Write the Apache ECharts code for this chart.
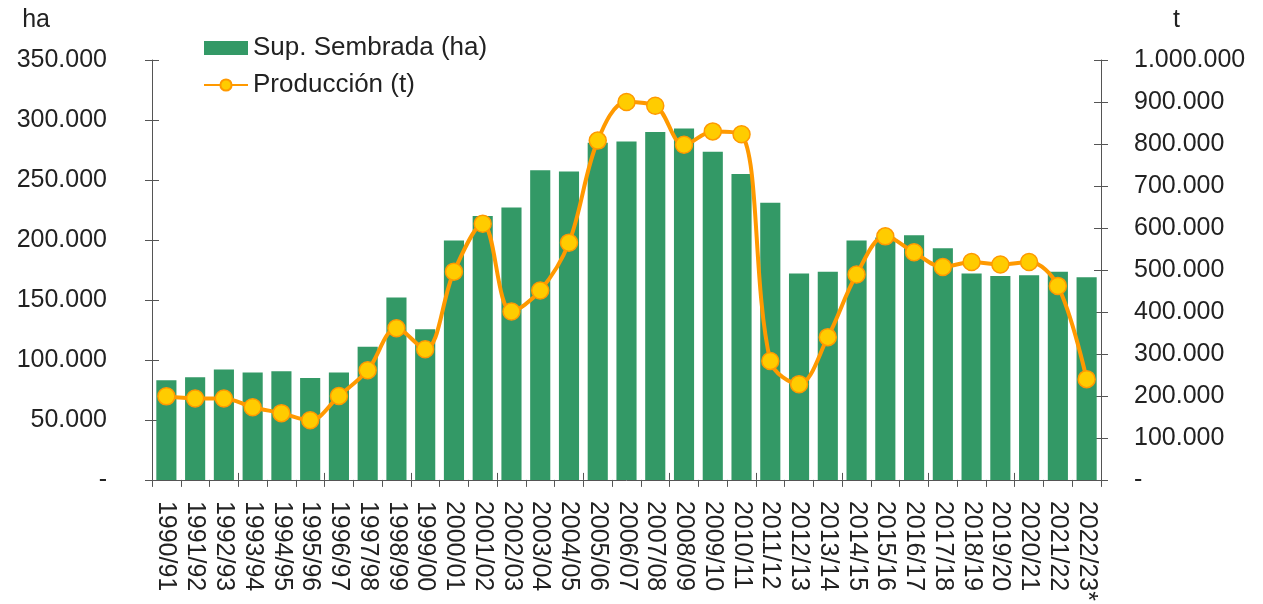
<!DOCTYPE html>
<html>
<head>
<meta charset="utf-8">
<script src="https://cdn.jsdelivr.net/npm/echarts@6/dist/echarts.min.js"></script>
<style>
  html, body { margin: 0; padding: 0; background: #fff; }
  #chart { width: 1263px; height: 604px; }
</style>
</head>
<body>
<div id="chart"></div>
<script>
const campaigns = [
  '1990/91', '1991/92', '1992/93', '1993/94', '1994/95', '1995/96', '1996/97', '1997/98',
  '1998/99', '1999/00', '2000/01', '2001/02', '2002/03', '2003/04', '2004/05', '2005/06',
  '2006/07', '2007/08', '2008/09', '2009/10', '2010/11', '2011/12', '2012/13', '2013/14',
  '2014/15', '2015/16', '2016/17', '2017/18', '2018/19', '2019/20', '2020/21', '2021/22',
  '2022/23*'
];

// hectáreas sembradas
const superficie = [
  83000, 85500, 92000, 89500, 90500, 85000, 89500, 111000,
  152000, 125500, 199500, 220000, 227000, 258000, 257000, 281000,
  282000, 290000, 293000, 273500, 255000, 231000, 172000, 173500,
  199500, 202000, 204000, 193000, 172000, 170000, 170500, 173500,
  169000
];

// toneladas producidas
const produccion = [
  199000, 194000, 194000, 173000, 159000, 142000, 200000, 261000,
  361000, 311000, 496000, 610000, 401000, 451000, 565000, 808000,
  900000, 891000, 798000, 830000, 823000, 283000, 228000, 340000,
  489000, 580000, 542000, 507000, 519000, 513000, 519000, 462000,
  240000
];

const fmt = (v) => v === 0 ? '-' : v.toLocaleString('de-DE');

const chart = echarts.init(document.getElementById('chart'));
const font = 'Liberation Sans, Arial, sans-serif';
const axisColor = '#555';
const txt = { fontSize: 25, color: '#222', fontFamily: font };

// eje "sombra" solo para que las marcas crucen la línea del eje
const innerTicks = (base) => Object.assign({
  axisLine: { show: false },
  axisTick: { show: true, inside: true, length: 7, lineStyle: { color: axisColor } },
  axisLabel: { show: false },
  splitLine: { show: false }
}, base);

chart.setOption({
  animation: false,
  textStyle: { fontFamily: font },
  legend: {
    orient: 'vertical',
    left: 198,
    top: 30,
    itemGap: 11,
    itemWidth: 44,
    itemHeight: 14,
    textStyle: { fontSize: 26, color: '#222', fontFamily: font },
    data: [
      { name: 'Sup. Sembrada (ha)', icon: 'rect' },
      { name: 'Producción (t)' }
    ]
  },
  grid: { left: 152, right: 162, top: 60, bottom: 123 },
  xAxis: [
    {
      type: 'category',
      data: campaigns,
      axisLine: { lineStyle: { color: axisColor, width: 1 } },
      axisTick: { show: true, length: 7, lineStyle: { color: axisColor } },
      axisLabel: Object.assign({ rotate: -90, margin: 21, interval: 0 }, txt)
    },
    innerTicks({ type: 'category', data: campaigns, position: 'bottom' })
  ],
  yAxis: [
    {
      type: 'value',
      name: 'ha',
      nameGap: 27,
      nameTextStyle: Object.assign({ align: 'right', padding: [0, 102, 0, 0] }, txt),
      min: 0,
      max: 350000,
      interval: 50000,
      axisLine: { show: true, lineStyle: { color: axisColor } },
      axisTick: { show: true, length: 7, lineStyle: { color: axisColor } },
      splitLine: { show: false },
      axisLabel: Object.assign({ margin: 45, formatter: fmt }, txt)
    },
    {
      type: 'value',
      name: 't',
      nameGap: 27,
      nameTextStyle: Object.assign({ align: 'left', padding: [0, 0, 0, 72] }, txt),
      min: 0,
      max: 1000000,
      interval: 100000,
      axisLine: { show: true, lineStyle: { color: axisColor } },
      axisTick: { show: true, length: 7, lineStyle: { color: axisColor } },
      splitLine: { show: false },
      axisLabel: Object.assign({ margin: 33, formatter: fmt }, txt)
    },
    innerTicks({ type: 'value', position: 'left', min: 0, max: 350000, interval: 50000 }),
    innerTicks({ type: 'value', position: 'right', min: 0, max: 1000000, interval: 100000 })
  ],
  series: [
    {
      name: 'Sup. Sembrada (ha)',
      type: 'bar',
      data: superficie,
      barWidth: '70%',
      itemStyle: { color: '#339966' }
    },
    {
      name: 'Producción (t)',
      type: 'line',
      yAxisIndex: 1,
      data: produccion,
      smooth: 0.35,
      symbol: 'circle',
      symbolSize: 17,
      lineStyle: { color: '#FF9900', width: 4 },
      itemStyle: { color: '#FFCC00', borderColor: '#FF9900', borderWidth: 1.5 }
    }
  ]
});
</script>
</body>
</html>
